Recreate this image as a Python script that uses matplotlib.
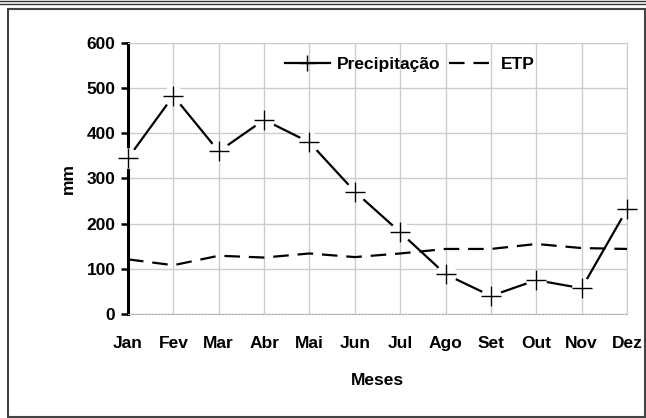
import matplotlib.pyplot as plt
from matplotlib.patches import Rectangle
from matplotlib.lines import Line2D

plt.rcParams['font.family'] = ['Liberation Sans', 'DejaVu Sans']
plt.rcParams['font.weight'] = 'bold'

# monthly values
meses = ['Jan', 'Fev', 'Mar', 'Abr', 'Mai', 'Jun', 'Jul', 'Ago', 'Set', 'Out', 'Nov', 'Dez']
precipitacao = [345, 483, 360, 430, 380, 271, 181, 88, 40, 75, 57, 232]
etp = [121, 108, 129, 125, 134, 126, 134, 144, 144, 155, 146, 144]

W, H = 646, 418
fig = plt.figure(figsize=(W / 100, H / 100), dpi=100)
ax = fig.add_axes([128 / W, 1 - 314 / H, (627 - 128) / W, (314 - 43) / H])

x = list(range(len(meses)))
fs = 12.5

# ETP dashed line
ax.plot(x, etp, color='black', lw=1.6, dashes=(7, 4), zorder=3, clip_on=False)

# precipitation line with white gaps around the markers
ax.plot(x, precipitacao, color='black', lw=1.6, zorder=4, clip_on=False)
ax.plot(x, precipitacao, ls='none', marker='o', ms=15, mfc='white', mec='none',
        zorder=5, clip_on=False)
ax.plot(x, precipitacao, ls='none', marker='+', ms=14, mew=1.0, color='black',
        zorder=6, clip_on=False)

ax.set_xlim(0, 11)
ax.set_ylim(0, 600)
ax.set_yticks(range(0, 601, 100))
ax.set_xticks(x)
ax.set_xticklabels(meses)

ax.grid(True, color='#cccccc', lw=1.0, zorder=0)
ax.set_axisbelow(True)

for s in ['top', 'right']:
    ax.spines[s].set_color('#cccccc')
ax.spines['left'].set_linewidth(2.2)
ax.spines['left'].set_color('black')
ax.spines['bottom'].set_color('#aaaaaa')
ax.spines['bottom'].set_linestyle((0, (1.5, 1.5)))
ax.tick_params(axis='y', length=5, width=1.8, labelsize=fs, pad=4)
ax.tick_params(axis='x', length=0, labelsize=fs, pad=16)

ax.set_xlabel('Meses', fontsize=fs, fontweight='bold', labelpad=16)
ax.set_ylabel('mm', fontsize=fs, fontweight='bold', labelpad=8)

handles = [
    Line2D([], [], color='black', lw=1.6, marker='+', ms=11, mew=1.0),
    Line2D([], [], color='black', lw=1.6, dashes=(7, 4)),
]
ax.legend(handles, ['Precipitação', 'ETP'], loc='center',
          bbox_to_anchor=(0.565, 0.92), ncol=2, frameon=False, fontsize=fs,
          handlelength=2.6, columnspacing=0.5, handletextpad=0.4)

# outer frame and top rule lines
fig.add_artist(Rectangle((8 / W, 1 - 417 / H), (645 - 8) / W, (417 - 9) / H,
                         transform=fig.transFigure, fill=False, ec='#444444', lw=1.5))
fig.add_artist(Line2D([0, 1], [1 - 1 / H, 1 - 1 / H], transform=fig.transFigure,
                      color='#333333', lw=1.0))
fig.add_artist(Line2D([0, 1], [1 - 3.5 / H, 1 - 3.5 / H], transform=fig.transFigure,
                      color='#333333', lw=1.0))

fig.savefig('out.png', dpi=100)
